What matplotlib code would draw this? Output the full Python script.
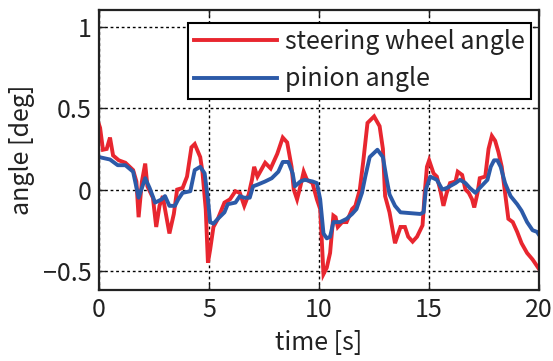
import matplotlib
matplotlib.use("Agg")
import matplotlib.pyplot as plt

plt.rcParams['font.family'] = ['Noto Sans CJK JP', 'DejaVu Sans']

# steering wheel angle
t_red = [0.0, 0.05, 0.18, 0.35, 0.5, 0.64, 0.9, 1.2, 1.55, 1.7,
         1.8, 1.95, 2.1, 2.2, 2.45, 2.6, 2.75, 2.9, 3.0, 3.2,
         3.4, 3.55, 3.8, 4.0, 4.2, 4.35, 4.6, 4.7, 4.85, 4.95,
         5.05, 5.2, 5.4, 5.7, 5.95, 6.2, 6.4, 6.6, 6.8, 6.95,
         7.05, 7.2, 7.55, 7.8, 8.1, 8.35, 8.55, 8.75, 8.85, 9.0,
         9.15, 9.3, 9.45, 9.7, 9.9, 10.05, 10.2, 10.35, 10.5, 10.65,
         10.75, 10.85, 11.05, 11.25, 11.5, 11.65, 11.85, 12.0, 12.2, 12.5,
         12.75, 12.9, 13.0, 13.2, 13.45, 13.7, 13.9, 14.05, 14.25, 14.45,
         14.7, 14.8, 14.9, 15.0, 15.2, 15.35, 15.5, 15.65, 15.8, 15.95,
         16.2, 16.3, 16.5, 16.65, 16.8, 16.95, 17.05, 17.2, 17.3, 17.55,
         17.7, 17.85, 18.0, 18.15, 18.3, 18.45, 18.6, 18.8, 19.0, 19.2,
         19.45, 19.7, 19.8, 20.0]
v_red = [0.40, 0.38, 0.245, 0.25, 0.32, 0.21, 0.18, 0.165, 0.12, 0.05,
         -0.17, 0.05, 0.16, 0.02, -0.05, -0.23, -0.1, -0.04, -0.12, -0.27,
         -0.15, 0.0, 0.01, 0.08, 0.26, 0.28, 0.2, 0.11, -0.12, -0.45,
         -0.37, -0.23, -0.18, -0.08, -0.06, -0.01, -0.02, -0.1, -0.03, 0.06,
         0.14, 0.08, 0.165, 0.13, 0.22, 0.32, 0.29, 0.14, 0.0, -0.06,
         0.02, 0.11, 0.06, 0.04, -0.06, -0.12, -0.52, -0.48, -0.39, -0.16,
         -0.17, -0.23, -0.2, -0.2, -0.12, -0.1, 0.0, 0.165, 0.41, 0.45,
         0.39, 0.25, -0.04, -0.14, -0.33, -0.23, -0.23, -0.29, -0.32, -0.29,
         -0.22, -0.02, 0.14, 0.18, 0.1, 0.08, 0.0, -0.1, -0.02, 0.04,
         0.05, 0.11, 0.09, 0.0, -0.02, -0.06, -0.11, -0.02, 0.07, 0.08,
         0.25, 0.33, 0.3, 0.23, 0.14, -0.02, -0.18, -0.2, -0.26, -0.33,
         -0.39, -0.43, -0.45, -0.49]

# pinion angle
t_blue = [0.0, 0.5, 0.85, 1.2, 1.55, 1.8, 2.1, 2.3, 2.55, 2.85,
          3.0, 3.2, 3.45, 3.6, 3.8, 4.15, 4.35, 4.6, 4.8, 4.95,
          5.05, 5.2, 5.4, 5.7, 5.85, 6.2, 6.4, 6.6, 6.85, 7.0,
          7.2, 7.55, 7.85, 8.15, 8.35, 8.6, 8.8, 8.9, 9.15, 9.35,
          9.7, 9.9, 10.05, 10.2, 10.35, 10.5, 10.65, 10.95, 11.25, 11.5,
          11.7, 11.95, 12.1, 12.3, 12.65, 12.9, 13.05, 13.2, 13.45, 13.7,
          14.6, 14.75, 14.85, 15.05, 15.35, 15.6, 15.8, 16.2, 16.4, 16.65,
          16.85, 17.1, 17.3, 17.65, 17.8, 17.95, 18.1, 18.25, 18.45, 18.7,
          19.0, 19.2, 19.45, 19.7, 19.9, 20.0]
v_blue = [0.2, 0.185, 0.15, 0.15, 0.11, -0.05, 0.07, 0.01, -0.08, -0.06,
          -0.04, -0.1, -0.1, -0.06, -0.02, -0.01, 0.12, 0.14, 0.1, -0.06,
          -0.2, -0.21, -0.18, -0.14, -0.09, -0.08, -0.04, -0.05, -0.05, 0.02,
          0.03, 0.05, 0.07, 0.11, 0.17, 0.17, 0.1, 0.02, 0.05, 0.06,
          0.05, 0.04, -0.06, -0.27, -0.3, -0.29, -0.2, -0.2, -0.18, -0.15,
          -0.12, -0.02, 0.08, 0.2, 0.245, 0.2, 0.08, -0.03, -0.1, -0.14,
          -0.15, -0.14, 0.0, 0.08, 0.06, 0.0, 0.01, 0.04, 0.06, 0.04,
          0.01, -0.02, 0.01, 0.06, 0.14, 0.18, 0.18, 0.14, 0.04, -0.04,
          -0.09, -0.13, -0.2, -0.25, -0.26, -0.28]

x_ticks = [0, 5, 10, 15, 20]
y_ticks = [-0.5, 0, 0.5, 1]
y_ticklabels = ['\u22120.5', '0', '0.5', '1']

fig = plt.figure(figsize=(5.53, 3.61), dpi=100)
ax = fig.add_axes([0.179, 0.197, 0.796, 0.775])

ax.plot(t_red, v_red, color='#e8262f', lw=2.8, solid_joinstyle='miter',
        label='steering wheel angle')
ax.plot(t_blue, v_blue, color='#2c5aa8', lw=2.8, label='pinion angle')

ax.set_xlim(0, 20)
ax.set_ylim(-0.617, 1.104)
ax.set_xticks(x_ticks)
ax.set_yticks(y_ticks)
ax.set_yticklabels(y_ticklabels)
ax.grid(True, color='k', ls=(0, (2, 2)), lw=1.0)
ax.tick_params(direction='in', top=True, right=True, length=4, width=1,
               labelsize=18, pad=5, colors='#222222')
for s in ax.spines.values():
    s.set_linewidth(1.6)
    s.set_color('#222222')

ax.set_xlabel('time [s]', fontsize=18, color='#222222', labelpad=5)
ax.set_ylabel('angle [deg]', fontsize=18, color='#222222', labelpad=6)

leg = ax.legend(loc='upper right', bbox_to_anchor=(0.982, 0.954),
                fontsize=18, fancybox=False, framealpha=1, edgecolor='k',
                handlelength=3.3, handletextpad=0.35, labelspacing=0.45,
                borderpad=0.25, borderaxespad=0)
leg.get_frame().set_linewidth(1.5)
for txt in leg.get_texts():
    txt.set_color('#222222')

fig.savefig('out.png', dpi=100)
